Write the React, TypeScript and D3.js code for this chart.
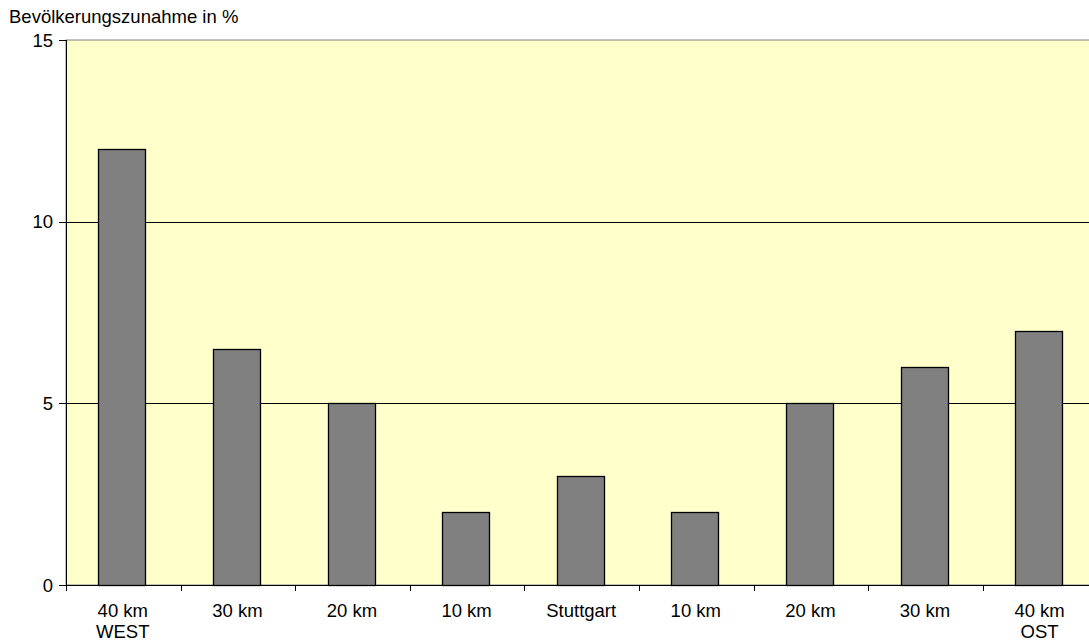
import React, { useEffect, useRef } from "react";
import * as d3 from "d3";

const categories = ["40 km|WEST", "30 km", "20 km", "10 km", "Stuttgart", "10 km", "20 km", "30 km", "40 km|OST"];
const values = [12, 6.5, 5, 2, 3, 2, 5, 6, 7];
const yTicks = [0, 5, 10, 15];

function App() {
  const ref = useRef<SVGSVGElement>(null);

  useEffect(() => {
    const svg = d3.select(ref.current);
    svg.selectAll("*").remove();

    const left = 66;
    const top = 40;
    const bottom = 585;
    const band = 114.6;
    const right = left + band * categories.length;

    const x = d3
      .scaleBand()
      .domain(categories.map((c, i) => i + ""))
      .range([left, right])
      .paddingInner(0.59)
      .paddingOuter(0.295);
    const y = d3.scaleLinear().domain([0, 15]).range([bottom, top]);

    const font = "Liberation Sans, Arial, sans-serif";
    const fs = "18.5px";

    svg
      .append("rect")
      .attr("x", left)
      .attr("y", top)
      .attr("width", right - left)
      .attr("height", bottom - top)
      .attr("fill", "#ffffcc")
      .attr("stroke", "#808080")
      .attr("stroke-width", 1);

    // gridlines
    svg
      .append("g")
      .selectAll("line")
      .data(yTicks.filter(d => d > 0 && d < 15))
      .enter()
      .append("line")
      .attr("x1", left)
      .attr("x2", right)
      .attr("y1", d => Math.round(y(d)) + 0.5)
      .attr("y2", d => Math.round(y(d)) + 0.5)
      .attr("stroke", "#000");

    // bars
    svg
      .append("g")
      .selectAll("rect")
      .data(values)
      .enter()
      .append("rect")
      .attr("x", (d, i) => Math.floor(x(i + "")!) - 0.5)
      .attr("y", d => Math.round(y(d)) + 0.5)
      .attr("width", Math.round(x.bandwidth()))
      .attr("height", d => Math.round(y(0)) - Math.round(y(d)))
      .attr("fill", "#808080")
      .attr("stroke", "#000")
      .attr("stroke-width", 1.3);

    // y axis
    const yAxis = svg.append("g");
    yAxis
      .append("line")
      .attr("x1", left + 0.5)
      .attr("x2", left + 0.5)
      .attr("y1", top)
      .attr("y2", bottom)
      .attr("stroke", "#000");
    yTicks.forEach(t => {
      yAxis
        .append("line")
        .attr("x1", left - 7)
        .attr("x2", left)
        .attr("y1", Math.round(y(t)) + 0.5)
        .attr("y2", Math.round(y(t)) + 0.5)
        .attr("stroke", "#000");
      yAxis
        .append("text")
        .attr("x", 53)
        .attr("y", y(t) + 6.5)
        .attr("text-anchor", "end")
        .attr("font-family", font)
        .attr("font-size", fs)
        .text(t);
    });

    // x axis
    const xAxis = svg.append("g");
    xAxis
      .append("line")
      .attr("x1", left)
      .attr("x2", right)
      .attr("y1", bottom + 0.5)
      .attr("y2", bottom + 0.5)
      .attr("stroke", "#000");
    d3.range(categories.length + 1).forEach(i => {
      const tx = Math.round(left + i * band) + 0.5;
      xAxis
        .append("line")
        .attr("x1", tx)
        .attr("x2", tx)
        .attr("y1", bottom)
        .attr("y2", bottom + 6)
        .attr("stroke", "#000");
    });
    categories.forEach((c, i) => {
      const cx = x(i + "")! + x.bandwidth() / 2 - 0.5;
      c.split("|").forEach((line, j) => {
        xAxis
          .append("text")
          .attr("x", cx)
          .attr("y", 617 + j * 21)
          .attr("text-anchor", "middle")
          .attr("font-family", font)
          .attr("font-size", fs)
          .text(line);
      });
    });

    svg
      .append("text")
      .attr("x", 9)
      .attr("y", 23)
      .attr("font-family", font)
      .attr("font-size", fs)
      .text("Bevölkerungszunahme in %");
  }, []);

  return (
    <svg
      ref={ref}
      width={1089}
      height={642}
      style={{ position: "absolute", left: 0, top: 0, background: "#fff" }}
    />
  );
}

export default App;
